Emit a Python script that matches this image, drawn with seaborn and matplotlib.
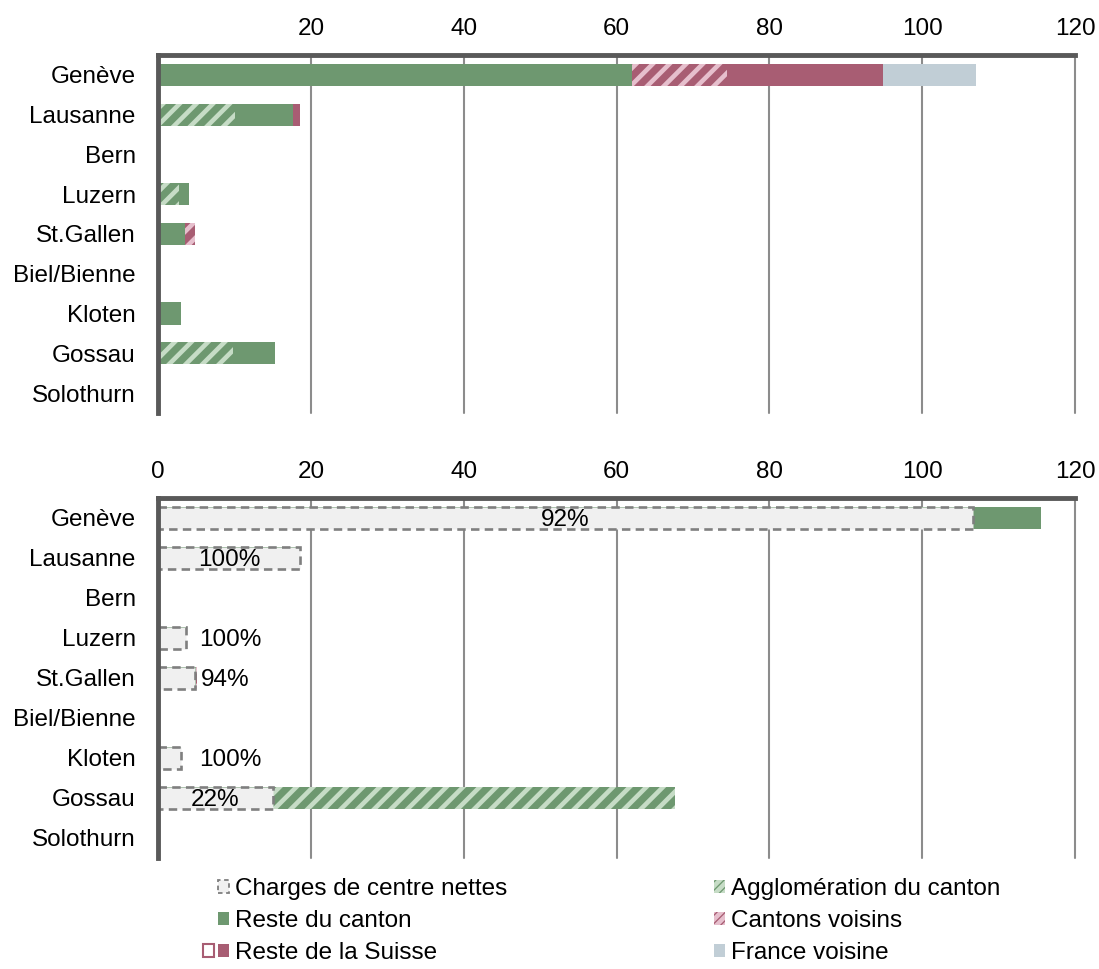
import matplotlib
matplotlib.use("Agg")
import matplotlib.pyplot as plt
import seaborn as sns
import numpy as np
import pandas as pd
from matplotlib.patches import Patch, Rectangle
from matplotlib.legend_handler import HandlerBase

# ---------------------------------------------------------------- data
cities = ["Genève", "Lausanne", "Bern", "Luzern", "St.Gallen",
          "Biel/Bienne", "Kloten", "Gossau", "Solothurn"]

# upper panel: stacked segments, from the axis outwards
top_agglo = [0.0, 10.1, 0.0, 2.8, 0.0, 0.0, 0.0, 9.8, 0.0]
top_reste_canton = [62.0, 7.6, 0.0, 1.3, 3.5, 0.0, 3.0, 5.5, 0.0]
top_cantons_voisins = [12.4, 0.0, 0.0, 0.0, 1.35, 0.0, 0.0, 0.0, 0.0]
top_reste_suisse = [20.5, 0.9, 0.0, 0.0, 0.0, 0.0, 0.0, 0.0, 0.0]
top_france = [12.2, 0.0, 0.0, 0.0, 0.0, 0.0, 0.0, 0.0, 0.0]

# lower panel: net centre charges followed by the remaining segments
bot_charges = [106.6, 18.6, 0.0, 3.7, 4.85, 0.0, 3.0, 15.0, 0.0]
bot_reste_canton = [9.0, 0.0, 0.0, 0.0, 0.15, 0.0, 0.0, 0.0, 0.0]
bot_agglo = [0.0, 0.0, 0.0, 0.0, 0.0, 0.0, 0.0, 52.6, 0.0]
bot_cantons_voisins = [0.0, 0.0, 0.0, 0.0, 0.15, 0.0, 0.0, 0.0, 0.0]

x_ticks = [0, 20, 40, 60, 80, 100, 120]

# ---------------------------------------------------------------- style
GREEN = "#6E9870"
GREEN_HATCH = "#C6DCC6"
PINK = "#A85D73"
PINK_HATCH = "#E6BFCD"
BLUE = "#C1CED6"
NET_FILL = "#F0F0F0"
NET_EDGE = "#7F7F7F"
GRID = "#8C8C8C"
SPINE = "#595959"
FS = 17.5

sns.set_theme(style="white")
plt.rcParams["font.family"] = ["Liberation Sans", "DejaVu Sans"]
plt.rcParams["hatch.linewidth"] = 3.3

solid_green = dict(color=GREEN, edgecolor=GREEN, linewidth=0)
hatch_green = dict(color=GREEN, edgecolor=GREEN_HATCH, hatch="//", linewidth=0)
solid_pink = dict(color=PINK, edgecolor=PINK, linewidth=0)
hatch_pink = dict(color=PINK, edgecolor=PINK_HATCH, hatch="//", linewidth=0)
solid_blue = dict(color=BLUE, edgecolor=BLUE, linewidth=0)
net_box = dict(color=NET_FILL, edgecolor=NET_EDGE, linewidth=1.9,
               linestyle=(0, (3.2, 2.0)))

BAR_H = 0.56


def stacked(ax, segments):
    """Draw stacked horizontal bars by overlaying cumulative totals."""
    cum = np.zeros(len(cities))
    layers = []
    for vals, style in segments:
        cum = cum + np.asarray(vals, dtype=float)
        layers.append((cum.copy(), style))
    for tot, style in reversed(layers):
        df = pd.DataFrame({"city": cities, "value": tot})
        sns.barplot(data=df, x="value", y="city", order=cities, orient="h",
                    ax=ax, width=BAR_H, saturation=1, errorbar=None, **style)
    return cum


def style_axis(ax, show_zero):
    ax.set_xlim(0, 120)
    ax.set_ylim(len(cities) - 0.5, -0.5)
    ax.set_xlabel("")
    ax.set_ylabel("")
    ax.xaxis.tick_top()
    ax.set_xticks(x_ticks)
    ax.set_xticklabels([str(t) if (t or show_zero) else "" for t in x_ticks])
    ax.tick_params(axis="x", length=0, pad=11, labelsize=FS, labeltop=True,
                   labelbottom=False, labelcolor="black")
    ax.tick_params(axis="y", length=0, pad=16, labelsize=FS,
                   labelcolor="black")
    ax.grid(axis="x", color=GRID, linewidth=1.5)
    ax.grid(axis="y", visible=False)
    ax.set_axisbelow(True)
    for gl in ax.get_xgridlines():
        gl.set_clip_on(False)
    for side in ("right", "bottom"):
        ax.spines[side].set_visible(False)
    for side in ("top", "left"):
        ax.spines[side].set_color(SPINE)
        ax.spines[side].set_linewidth(3.5)


fig = plt.figure(figsize=(10.99, 9.69), dpi=100)
ax_top = fig.add_axes([158 / 1099, 1 - 413 / 969, 917 / 1099, 358 / 969])
ax_bot = fig.add_axes([158 / 1099, 1 - 858 / 969, 917 / 1099, 360 / 969])

# upper panel
stacked(ax_top, [
    (top_agglo, hatch_green),
    (top_reste_canton, solid_green),
    (top_cantons_voisins, hatch_pink),
    (top_reste_suisse, solid_pink),
    (top_france, solid_blue),
])
style_axis(ax_top, show_zero=False)

# lower panel
bot_total = stacked(ax_bot, [
    (bot_charges, net_box),
    (bot_reste_canton, solid_green),
    (bot_agglo, hatch_green),
    (bot_cantons_voisins, hatch_pink),
])
style_axis(ax_bot, show_zero=True)

# share of net centre charges in each total
for i, (net, tot) in enumerate(zip(bot_charges, bot_total)):
    if tot <= 0:
        continue
    label = f"{round(100 * net / tot):d}%"
    if net >= 10:
        ax_bot.text(net / 2, i + 0.04, label, ha="center", va="center",
                    fontsize=FS, color="black")
    else:
        ax_bot.annotate(label, xy=(max(net, 4.7), i + 0.04), xytext=(4, 0),
                        textcoords="offset points", ha="left", va="center",
                        fontsize=FS, color="black")


# ---------------------------------------------------------------- legend
class HandlerPairedSquares(HandlerBase):
    """An outlined square followed by a filled one."""

    def create_artists(self, legend, orig_handle, xdescent, ydescent,
                       width, height, fontsize, trans):
        hollow_src, filled_src = orig_handle
        gap = 0.35 * width
        filled = Rectangle((-xdescent, -ydescent), width, height,
                           facecolor=filled_src.get_facecolor(),
                           edgecolor="none", transform=trans)
        hollow = Rectangle((-xdescent - width - gap, -ydescent), width, height,
                           facecolor="white",
                           edgecolor=hollow_src.get_edgecolor(),
                           linewidth=1.5, transform=trans)
        return [hollow, filled]


with plt.rc_context({"hatch.linewidth": 1.5}):
    h_net = Patch(facecolor=NET_FILL, edgecolor=NET_EDGE, linewidth=1.3,
                  linestyle=(0, (2.5, 2)))
    h_reste = Patch(facecolor=GREEN, edgecolor="none")
    h_suisse = (Patch(facecolor="white", edgecolor=PINK),
                Patch(facecolor=PINK, edgecolor="none"))
    h_agglo = Patch(facecolor=GREEN, edgecolor=GREEN_HATCH, hatch="////",
                    linewidth=0)
    h_voisins = Patch(facecolor=PINK, edgecolor=PINK_HATCH, hatch="////",
                      linewidth=0)
    h_france = Patch(facecolor=BLUE, edgecolor="none")

handles = [h_net, h_reste, h_suisse, h_agglo, h_voisins, h_france]
labels = ["Charges de centre nettes", "Reste du canton", "Reste de la Suisse",
          "Agglomération du canton", "Cantons voisins", "France voisine"]

fig.legend(handles, labels, ncol=2, loc="upper left",
           bbox_to_anchor=(218 / 1099, 1 - 878 / 969),
           frameon=False, fontsize=FS, borderaxespad=0, borderpad=0,
           handlelength=0.45, handleheight=0.45, handletextpad=0.25,
           columnspacing=8.5, labelspacing=0.42, labelcolor="black",
           handler_map={tuple: HandlerPairedSquares()})

fig.savefig("out.png", dpi=100)
